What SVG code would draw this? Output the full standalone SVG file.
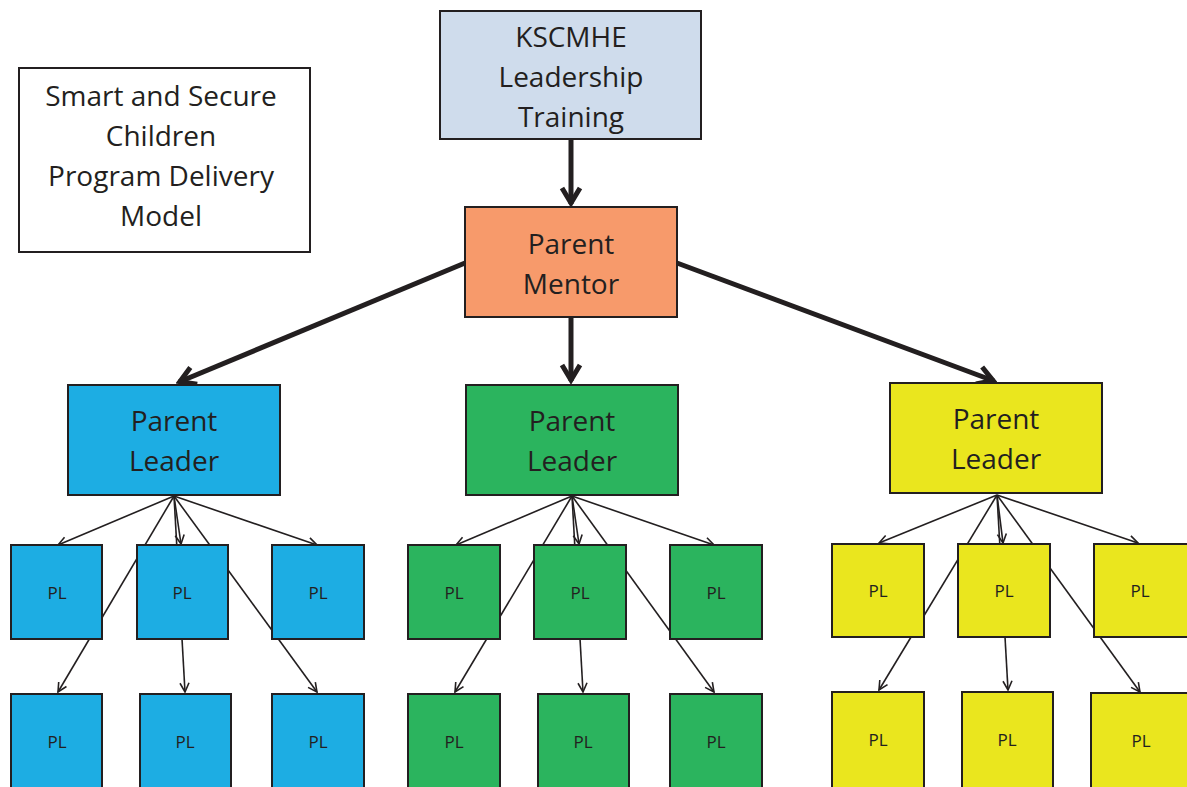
<svg xmlns="http://www.w3.org/2000/svg" width="1187" height="787" viewBox="0 0 1187 787">
<style>
text{font-family:"Open Sans","Noto Sans","Liberation Sans",sans-serif;fill:#231f20;text-anchor:middle}
.big{font-size:28px}
.pl{font-size:17px}
.box{stroke:#231f20;stroke-width:2}
.blue{fill:#1dade3}.green{fill:#2bb45e}.yellow{fill:#eae61e}
.thin{stroke:#231f20;stroke-width:1.6;fill:none;marker-end:url(#ah)}
.thick{stroke:#231f20;stroke-width:5;fill:none;marker-end:url(#bh)}
</style>
<defs>
<marker id="ah" viewBox="0 0 12 12" refX="11" refY="6" markerWidth="12" markerHeight="12" orient="auto" markerUnits="userSpaceOnUse">
<path d="M2,1.5 L11,6 L2,10.5" fill="none" stroke="#231f20" stroke-width="1.6"/>
</marker>
<marker id="bh" viewBox="0 0 24 24" refX="21" refY="12" markerWidth="24" markerHeight="24" orient="auto" markerUnits="userSpaceOnUse">
<path d="M5,3 L20,12 L5,21" fill="none" stroke="#231f20" stroke-width="5"/>
</marker>
</defs>
<rect width="1187" height="787" fill="#fff"/>
<g id="connectors">
<line class="thick" x1="571" y1="139" x2="571" y2="204"/>
<line class="thick" x1="571" y1="317" x2="571" y2="381"/>
<line class="thick" x1="465" y1="263" x2="179" y2="382"/>
<line class="thick" x1="677" y1="263" x2="994" y2="381"/>
<line class="thin" x1="174" y1="496" x2="58" y2="545"/>
<line class="thin" x1="174" y1="496" x2="181" y2="544"/>
<line class="thin" x1="174" y1="496" x2="317" y2="545"/>
<line class="thin" x1="174" y1="496" x2="58" y2="692"/>
<line class="thin" x1="174" y1="496" x2="185" y2="692"/>
<line class="thin" x1="174" y1="496" x2="317" y2="692"/>
<line class="thin" x1="572" y1="496" x2="456" y2="545"/>
<line class="thin" x1="572" y1="496" x2="579" y2="544"/>
<line class="thin" x1="572" y1="496" x2="714" y2="545"/>
<line class="thin" x1="572" y1="496" x2="455" y2="692"/>
<line class="thin" x1="572" y1="496" x2="583" y2="692"/>
<line class="thin" x1="572" y1="496" x2="714" y2="692"/>
<line class="thin" x1="997" y1="495" x2="879" y2="543"/>
<line class="thin" x1="997" y1="495" x2="1003" y2="543"/>
<line class="thin" x1="997" y1="495" x2="1138" y2="543"/>
<line class="thin" x1="997" y1="495" x2="879" y2="690"/>
<line class="thin" x1="997" y1="495" x2="1008" y2="690"/>
<line class="thin" x1="997" y1="495" x2="1140" y2="692"/>
</g>
<g id="title">
<rect x="19" y="68" width="291" height="184" fill="#fff" class="box"/>
<text class="big" x="161" y="106">Smart and Secure</text>
<text class="big" x="161" y="146">Children</text>
<text class="big" x="161" y="186">Program Delivery</text>
<text class="big" x="161" y="226">Model</text>
</g>
<g id="kscmhe">
<rect x="440" y="11" width="261" height="128" fill="#cfdcec" class="box"/>
<text class="big" x="571" y="47">KSCMHE</text>
<text class="big" x="571" y="87">Leadership</text>
<text class="big" x="571" y="127">Training</text>
</g>
<g id="mentor">
<rect x="465" y="207" width="212" height="110" fill="#f79a6b" class="box"/>
<text class="big" x="571" y="254">Parent</text>
<text class="big" x="571" y="294">Mentor</text>
</g>
<g id="leader-blue">
<rect x="68" y="385" width="212" height="110" class="box blue"/>
<text class="big" x="174" y="431">Parent</text>
<text class="big" x="174" y="471">Leader</text>
</g>
<g id="leader-green">
<rect x="466" y="385" width="212" height="110" class="box green"/>
<text class="big" x="572" y="431">Parent</text>
<text class="big" x="572" y="471">Leader</text>
</g>
<g id="leader-yellow">
<rect x="890" y="383" width="212" height="110" class="box yellow"/>
<text class="big" x="996" y="429">Parent</text>
<text class="big" x="996" y="469">Leader</text>
</g>
<g id="pl-blue-1"><rect x="11" y="545" width="91" height="94" class="box blue"/><text class="pl" x="57" y="599">PL</text></g>
<g id="pl-blue-2"><rect x="137" y="545" width="91" height="94" class="box blue"/><text class="pl" x="182" y="599">PL</text></g>
<g id="pl-blue-3"><rect x="272" y="545" width="92" height="94" class="box blue"/><text class="pl" x="318" y="599">PL</text></g>
<g id="pl-blue-4"><rect x="11" y="694" width="91" height="100" class="box blue"/><text class="pl" x="57" y="748">PL</text></g>
<g id="pl-blue-5"><rect x="140" y="694" width="91" height="100" class="box blue"/><text class="pl" x="185" y="748">PL</text></g>
<g id="pl-blue-6"><rect x="272" y="694" width="92" height="100" class="box blue"/><text class="pl" x="318" y="748">PL</text></g>
<g id="pl-green-1"><rect x="408" y="545" width="92" height="94" class="box green"/><text class="pl" x="454" y="599">PL</text></g>
<g id="pl-green-2"><rect x="534" y="545" width="92" height="94" class="box green"/><text class="pl" x="580" y="599">PL</text></g>
<g id="pl-green-3"><rect x="670" y="545" width="92" height="94" class="box green"/><text class="pl" x="716" y="599">PL</text></g>
<g id="pl-green-4"><rect x="408" y="694" width="92" height="100" class="box green"/><text class="pl" x="454" y="748">PL</text></g>
<g id="pl-green-5"><rect x="538" y="694" width="91" height="100" class="box green"/><text class="pl" x="583" y="748">PL</text></g>
<g id="pl-green-6"><rect x="670" y="694" width="92" height="100" class="box green"/><text class="pl" x="716" y="748">PL</text></g>
<g id="pl-yellow-1"><rect x="832" y="544" width="92" height="93" class="box yellow"/><text class="pl" x="878" y="597">PL</text></g>
<g id="pl-yellow-2"><rect x="958" y="544" width="92" height="93" class="box yellow"/><text class="pl" x="1004" y="597">PL</text></g>
<g id="pl-yellow-3"><rect x="1094" y="544" width="100" height="93" class="box yellow"/><text class="pl" x="1140" y="597">PL</text></g>
<g id="pl-yellow-4"><rect x="832" y="692" width="92" height="100" class="box yellow"/><text class="pl" x="878" y="746">PL</text></g>
<g id="pl-yellow-5"><rect x="962" y="692" width="91" height="100" class="box yellow"/><text class="pl" x="1007" y="746">PL</text></g>
<g id="pl-yellow-6"><rect x="1091" y="693" width="100" height="100" class="box yellow"/><text class="pl" x="1141" y="747">PL</text></g>
</svg>
